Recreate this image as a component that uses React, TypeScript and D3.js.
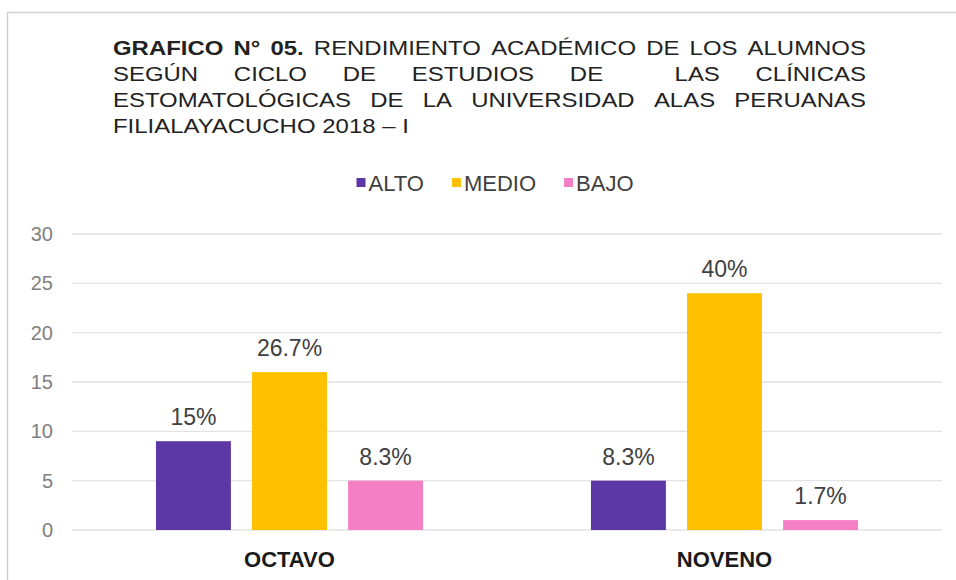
import React, { useMemo } from "react";
import * as d3 from "d3";

const categories = ["OCTAVO", "NOVENO"];
const seriesNames = ["ALTO", "MEDIO", "BAJO"];
const seriesColors = ["#5E37A6", "#FFC000", "#F47FC4"];
const alto = [9, 5];
const medio = [16, 24];
const bajo = [5, 1];
const altoLabels = ["15%", "8.3%"];
const medioLabels = ["26.7%", "40%"];
const bajoLabels = ["8.3%", "1.7%"];
const yTicks = [0, 5, 10, 15, 20, 25, 30];

const titleLines = [
  "GRAFICO N° 05. RENDIMIENTO ACADÉMICO DE LOS ALUMNOS",
  "SEGÚN CICLO DE ESTUDIOS DE  LAS CLÍNICAS",
  "ESTOMATOLÓGICAS DE LA UNIVERSIDAD ALAS PERUANAS",
  "FILIALAYACUCHO 2018 – I",
];
const boldPrefixWords = 3; // "GRAFICO N° 05."

const W = 956;
const H = 580;
const FONT = "'Liberation Sans', Arial, sans-serif";
const TITLE_SIZE = 21;
const TITLE_SX = 1.14;
const TITLE_LEFT = 113;
const TITLE_RIGHT = 866;
const TITLE_BASE = 55;
const TITLE_PITCH = 26;

let ctx: CanvasRenderingContext2D | null = null;
function measure(text: string, bold: boolean, size: number) {
  if (!ctx) {
    const c = document.createElement("canvas");
    ctx = c.getContext("2d");
  }
  if (!ctx) return text.length * size * 0.6;
  ctx.font = `${bold ? "bold " : ""}${size}px 'Liberation Sans', Arial, sans-serif`;
  return ctx.measureText(text).width;
}

type Word = { text: string; x: number; bold: boolean };

function layoutLine(line: string, lineIdx: number, justify: boolean): Word[] {
  const tokens = line.split(" ");
  const bolds = tokens.map((_, i) => lineIdx === 0 && i < boldPrefixWords);
  const widths = tokens.map((t, i) => measure(t, bolds[i], TITLE_SIZE) * TITLE_SX);
  const spaceW = measure(" ", false, TITLE_SIZE) * TITLE_SX;
  const nSpaces = tokens.length - 1;
  const natural = d3.sum(widths) + nSpaces * spaceW;
  const extra = justify && nSpaces > 0 ? (TITLE_RIGHT - TITLE_LEFT - natural) / nSpaces : 0;
  const out: Word[] = [];
  let x = TITLE_LEFT;
  tokens.forEach((t, i) => {
    if (t.length) out.push({ text: t, x, bold: bolds[i] });
    x += widths[i] + spaceW + extra;
  });
  return out;
}

export default function App() {
  const x0 = d3.scaleBand<string>().domain(categories).range([72, 942]).paddingInner(0.386).paddingOuter(0.193);
  const x1 = d3.scaleBand<string>().domain(seriesNames).range([0, x0.bandwidth()]).paddingInner(0.22).paddingOuter(0);
  const y = d3.scaleLinear().domain([0, 30]).range([530, 234]);

  const values = [alto, medio, bajo];
  const labels = [altoLabels, medioLabels, bajoLabels];

  const title = useMemo(
    () => titleLines.map((l, i) => layoutLine(l, i, i < titleLines.length - 1)),
    []
  );

  // legend layout
  const legendSize = 22;
  const legendItems = seriesNames.map((s) => ({ s, w: measure(s, false, legendSize) }));
  const sq = 9;
  const itemGap = 28;
  const totalLegend = d3.sum(legendItems, (d) => sq + 3 + d.w) + itemGap * (legendItems.length - 1);
  let lx = 495 - totalLegend / 2;
  const legendPos = legendItems.map((d) => {
    const p = { ...d, x: lx };
    lx += sq + 3 + d.w + itemGap;
    return p;
  });

  return (
    <svg
      width={W}
      height={H}
      style={{ position: "absolute", left: 0, top: 0, background: "#fff" }}
      fontFamily={FONT}
    >
      <rect x={0} y={0} width={W} height={H} fill="#ffffff" />
      {/* frame */}
      <line x1={7.5} y1={12} x2={7.5} y2={H} stroke="#d0d0d0" strokeWidth={1.5} />
      <line x1={7} y1={12.5} x2={W} y2={12.5} stroke="#d0d0d0" strokeWidth={1.5} />

      {/* title */}
      {title.map((words, li) => (
        <g key={li}>
          {words.map((w, wi) => (
            <text
              key={wi}
              transform={`translate(${w.x},${TITLE_BASE + li * TITLE_PITCH}) scale(${TITLE_SX},1)`}
              fontSize={TITLE_SIZE}
              fontWeight={w.bold ? "bold" : "normal"}
              fill="#222222"
            >
              {w.text}
            </text>
          ))}
        </g>
      ))}

      {/* legend */}
      {legendPos.map((d, i) => (
        <g key={d.s}>
          <rect x={d.x} y={178} width={sq} height={sq} fill={seriesColors[i]} />
          <text x={d.x + sq + 3} y={191} fontSize={legendSize} fill="#404040">
            {d.s}
          </text>
        </g>
      ))}

      {/* gridlines */}
      {yTicks.map((t) => (
        <g key={t}>
          <line x1={72} x2={942} y1={y(t)} y2={y(t)} stroke="#e3e3e3" strokeWidth={1.3} />
          <text x={53} y={y(t) + 7} fontSize={20} fill="#808080" textAnchor="end">
            {t}
          </text>
        </g>
      ))}

      {/* bars */}
      {categories.map((c, ci) => (
        <g key={c} transform={`translate(${x0(c)},0)`}>
          {seriesNames.map((s, si) => {
            const v = values[si][ci];
            const bx = x1(s) as number;
            return (
              <g key={s}>
                <rect x={bx} y={y(v)} width={x1.bandwidth()} height={y(0) - y(v)} fill={seriesColors[si]} />
                <text
                  x={bx + x1.bandwidth() / 2}
                  y={y(v) - 16}
                  fontSize={23}
                  fill="#404040"
                  textAnchor="middle"
                >
                  {labels[si][ci]}
                </text>
              </g>
            );
          })}
          <text
            x={x0.bandwidth() / 2}
            y={567}
            fontSize={22}
            fontWeight="bold"
            fill="#1a1a1a"
            textAnchor="middle"
          >
            {c}
          </text>
        </g>
      ))}
    </svg>
  );
}
